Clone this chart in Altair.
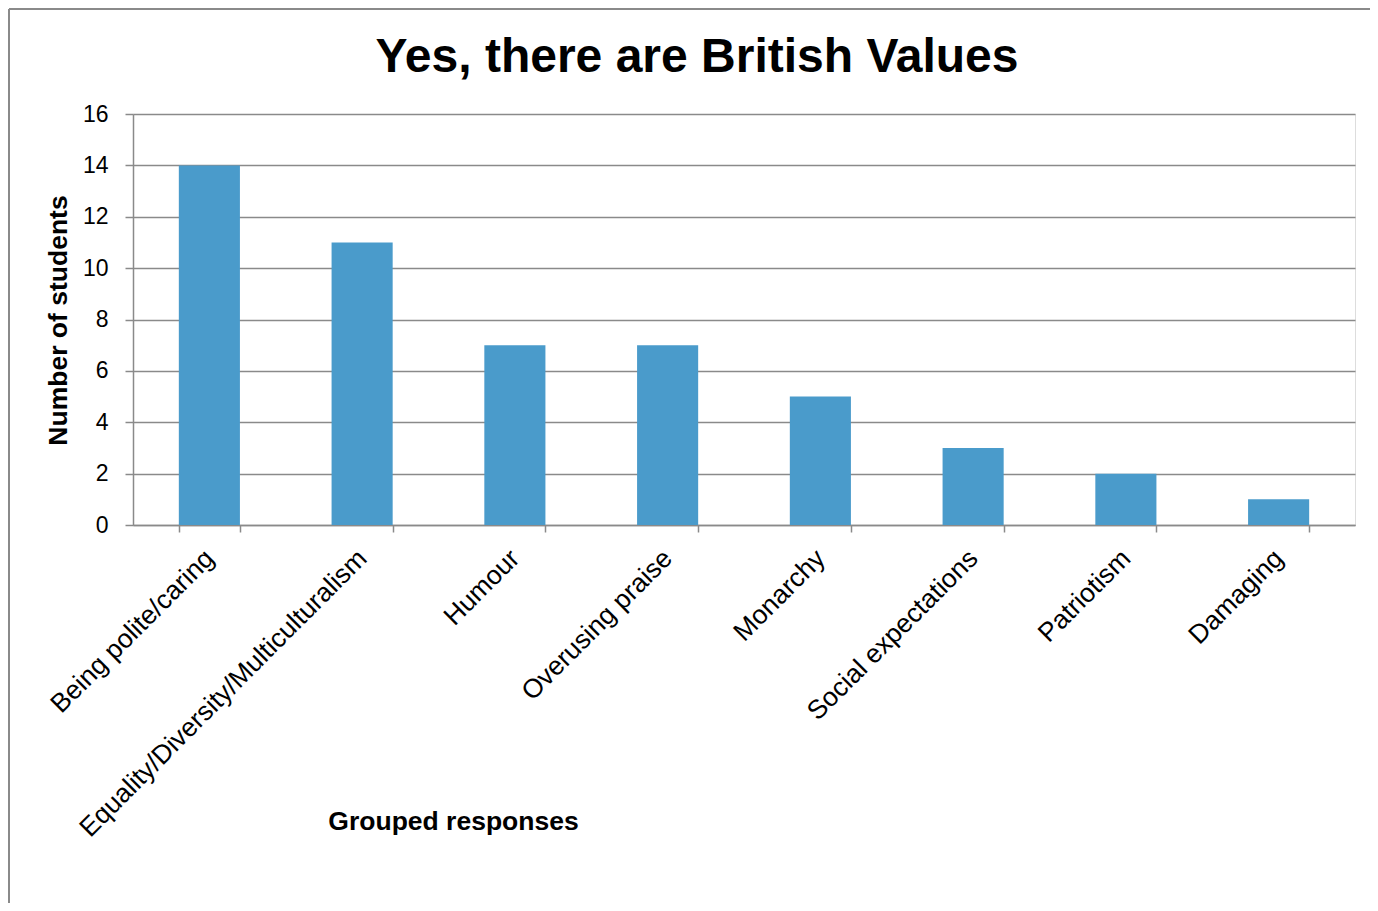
import altair as alt
import pandas as pd

categories = [
    "Being polite/caring",
    "Equality/Diversity/Multiculturalism",
    "Humour",
    "Overusing praise",
    "Monarchy",
    "Social expectations",
    "Patriotism",
    "Damaging",
]
values = [14, 11, 7, 7, 5, 3, 2, 1]
y_ticks = [0, 2, 4, 6, 8, 10, 12, 14, 16]
chart_title = "Yes, there are British Values"

df = pd.DataFrame({"category": categories, "students": values})

FONT = "Liberation Sans"
GRAY = "#8a8a8a"

bars = alt.Chart(df).mark_bar(color="#4A9BCB").encode(
    x=alt.X(
        "category:N",
        sort=categories,
        scale=alt.Scale(paddingInner=0.6, paddingOuter=0.3),
        axis=alt.Axis(
            title="Grouped responses",
            titleFont=FONT,
            titleFontSize=26.5,
            titleFontWeight="bold",
            titleColor="black",
            titleX=320,
            titleY=296,
            titleAlign="center",
            titleBaseline="middle",
            titleAngle=0,
            labelFont=FONT,
            labelFontSize=26.5,
            labelColor="black",
            labelAngle=-45,
            labelAlign="right",
            labelBaseline="middle",
            labelPadding=22,
            labelLimit=1000,
            labelOverlap=False,
            tickBand="extent",
            tickSize=7,
            tickColor=GRAY,
            tickWidth=1.5,
            domainColor=GRAY,
            domainWidth=1.5,
            grid=False,
        ),
    ),
    y=alt.Y(
        "students:Q",
        scale=alt.Scale(domain=[0, 16], nice=False),
        axis=alt.Axis(
            values=y_ticks,
            title="Number of students",
            titleFont=FONT,
            titleFontSize=26.5,
            titleFontWeight="bold",
            titleColor="black",
            titleX=-75,
            titleY=206,
            titleAlign="center",
            titleBaseline="middle",
            titleAngle=-90,
            labelFont=FONT,
            labelFontSize=23,
            labelColor="black",
            labelPadding=17,
            tickSize=8,
            tickColor=GRAY,
            tickWidth=1.5,
            domainColor=GRAY,
            domainWidth=1.5,
            grid=True,
            gridColor=GRAY,
            gridWidth=1.5,
        ),
    ),
)

single = alt.Data(values=[{}])
border = alt.Chart(single).mark_rule(color=GRAY, strokeWidth=2)
top_line = border.encode(x=alt.value(-124), x2=alt.value(1300), y=alt.value(-105))
left_line = border.encode(x=alt.value(-124), y=alt.value(-105), y2=alt.value(900))

title_text = alt.Chart(single).mark_text(
    text=chart_title,
    font=FONT,
    fontSize=48,
    fontWeight="bold",
    color="black",
    align="center",
    baseline="alphabetic",
).encode(x=alt.value(564), y=alt.value(-42))

chart = (
    alt.layer(bars, top_line, left_line, title_text)
    .properties(
        width=1222,
        height=411,
        autosize="none",
        padding={"left": 125, "top": 106, "right": 15, "bottom": 378},
    )
    .configure_view(stroke=None)
    .configure(background="white")
)

chart.save("out.html", embed_options={"renderer": "svg", "actions": False})
